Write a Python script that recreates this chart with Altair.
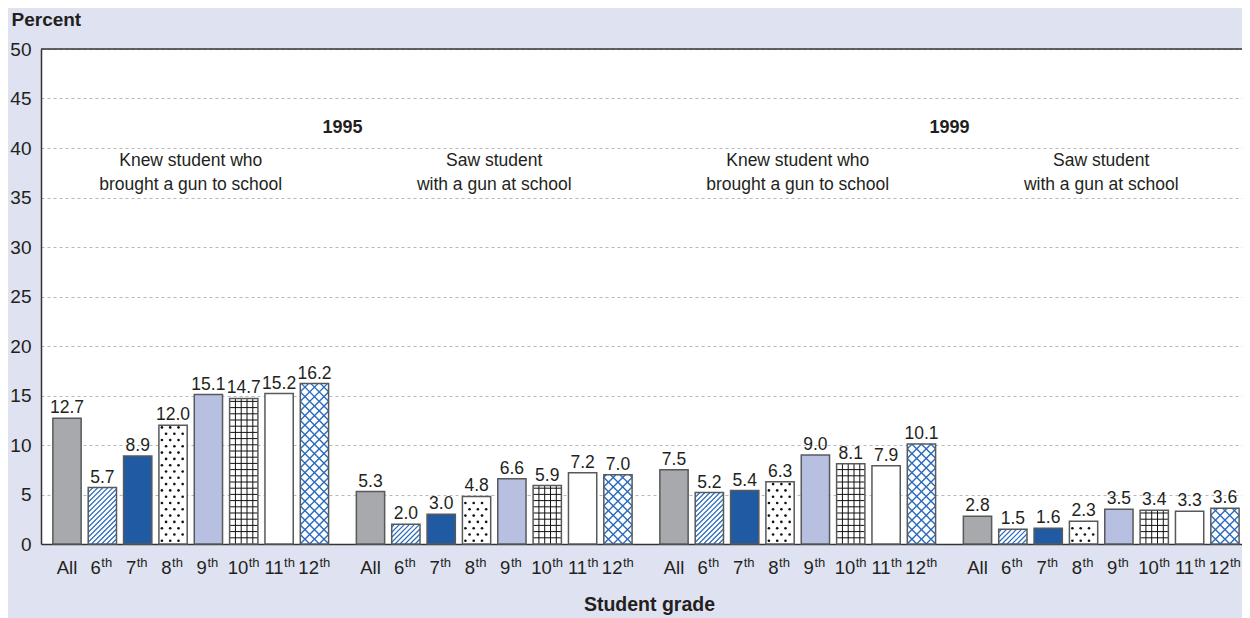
import altair as alt
import pandas as pd
import numpy as np

# ---------------- data ----------------
grades = ["All", "6th", "7th", "8th", "9th", "10th", "11th", "12th"]
knew_1995 = [12.7, 5.7, 8.9, 12.0, 15.1, 14.7, 15.2, 16.2]
saw_1995 = [5.3, 2.0, 3.0, 4.8, 6.6, 5.9, 7.2, 7.0]
knew_1999 = [7.5, 5.2, 5.4, 6.3, 9.0, 8.1, 7.9, 10.1]
saw_1999 = [2.8, 1.5, 1.6, 2.3, 3.5, 3.4, 3.3, 3.6]
series = [knew_1995, saw_1995, knew_1999, saw_1999]
panel_titles = [
    ["Knew student who", "brought a gun to school"],
    ["Saw student", "with a gun at school"],
    ["Knew student who", "brought a gun to school"],
    ["Saw student", "with a gun at school"],
]
years = ["1995", "1999"]
grade_fills = ["#a7a9ac", "#ffffff", "#1f5aa3", "#ffffff", "#b7c0e0", "#ffffff", "#ffffff", "#ffffff"]
grade_patterns = ["", "hatch", "", "dots", "", "grid", "", "diamond"]

# ---------------- layout / style ----------------
FONT = "Liberation Sans, Arial, sans-serif"
BG = "#dfe2f0"
TXT = "#231f20"
HATCH = "#2a6bbb"
EDGE = "#58595b"

W_PLOT, H_PLOT = 1201, 495
PXX = 35.35            # pixels per bar slot
PXY = H_PLOT / 50.0    # pixels per percent
X0 = -26.0 / PXX
X1 = X0 + W_PLOT / PXX
GS = 303.5 / PXX       # group step in slots
HW = 0.4               # half bar width in slots
WP = 2 * HW * PXX

rows = []
for g, vals in enumerate(series):
    for i, (gr, v) in enumerate(zip(grades, vals)):
        pos = g * GS + i
        num = gr.replace("th", "") if gr != "All" else "All"
        rows.append(dict(g=g, grade=gr, v=v, pos=pos, xl=pos - HW, xr=pos + HW, z=0.0,
                         fill=grade_fills[i], pat=grade_patterns[i], label=f"{v:.1f}",
                         num=num, sup="th" if gr != "All" else "",
                         nd=0 if gr == "All" else len(num)))
df_bars = pd.DataFrame(rows)

# decorative fill patterns, derived from each bar's extent
segs, dots = [], []
for r in rows:
    Hp = r["v"] * PXY
    xl = r["xl"]

    def add(u1, w1, u2, w2, c, sw):
        segs.append(dict(x=xl + u1 / PXX, y=w1 / PXY, x2=xl + u2 / PXX, y2=w2 / PXY, c=c, sw=sw))

    if r["pat"] in ("hatch", "diamond"):
        step = 5.0 if r["pat"] == "hatch" else 9.5
        fams = [1] if r["pat"] == "hatch" else [1, -1]
        sw = 1.2 if r["pat"] == "hatch" else 1.4
        for s in fams:
            cs = np.arange(-WP, Hp, step) if s == 1 else np.arange(0, Hp + WP, step)
            for c in cs:
                c = float(c)
                if s == 1:
                    lo, hi = max(0.0, -c), min(WP, Hp - c)
                else:
                    lo, hi = max(0.0, c - Hp), min(WP, c)
                if hi - lo > 0.4:
                    add(lo, s * lo + c, hi, s * hi + c, HATCH, sw)
    elif r["pat"] == "grid":
        for u in np.arange(5.8, WP - 1, 5.8):
            add(float(u), 0, float(u), Hp, "#111111", 1.0)
        for w in np.arange(6.2, Hp - 1, 6.2):
            add(0, float(w), WP, float(w), "#111111", 1.0)
    elif r["pat"] == "dots":
        k = 0
        w = 3.2
        while w < Hp - 2:
            u = 3.0 + (k % 2) * 4.15
            while u < WP - 1.5:
                dots.append(dict(x=xl + u / PXX, y=w / PXY))
                u += 8.3
            w += 6.3
            k += 1
df_segs = pd.DataFrame(segs)
df_dots = pd.DataFrame(dots)

df_panels = pd.DataFrame(dict(pos=[g * GS + 3.5 for g in range(4)],
                              text=["\n".join(t) for t in panel_titles]))
df_years = pd.DataFrame(dict(pos=[k * 2 * GS + 3.5 + GS / 2 for k in range(2)], year=years))

# ---------------- scales / axes ----------------
xs = alt.Scale(domain=[X0, X1], nice=False, zero=False)
ys = alt.Scale(domain=[0, 50], nice=False, zero=True)
x_axis = alt.Axis(labels=False, ticks=False, grid=False, domainColor="#333333", domainWidth=1.5,
                  title="Student grade", titleFontSize=19.5, titleFontWeight="bold", titleColor=TXT,
                  titleY=66, titleX=608, titleBaseline="alphabetic")
y_axis = alt.Axis(values=list(range(0, 51, 5)), title="Percent", titleAngle=0, titleAlign="left",
                  titleX=-30, titleY=-24, titleBaseline="alphabetic", titleFontSize=19,
                  titleFontWeight="bold", titleColor=TXT, labelFontSize=19, labelColor=TXT,
                  tickSize=0, ticks=False, labelPadding=10, domainColor="#333333", domainWidth=1.5,
                  grid=True, gridColor="#b8b8b8", gridDash=[3, 3], gridWidth=1)


def X(f):
    return alt.X(f, type="quantitative", scale=xs, axis=x_axis)


def Y(f):
    return alt.Y(f, type="quantitative", scale=ys, axis=y_axis)


bars = alt.Chart(df_bars).mark_rect(strokeWidth=0).encode(
    x=X("xl"), x2="xr", y=Y("v"), y2="z", fill=alt.Fill("fill:N", scale=None))

pattern = alt.Chart(df_segs).mark_rule(strokeCap="butt").encode(
    x=X("x"), x2="x2", y=Y("y"), y2="y2",
    color=alt.Color("c:N", scale=None), strokeWidth=alt.StrokeWidth("sw:Q", scale=None))

dot_layer = alt.Chart(df_dots).mark_circle(size=7, color="#111111", opacity=1).encode(
    x=X("x"), y=Y("y"))

outline = alt.Chart(df_bars).mark_rect(fillOpacity=0, stroke=EDGE, strokeWidth=1.5).encode(
    x=X("xl"), x2="xr", y=Y("v"), y2="z")

values = alt.Chart(df_bars).mark_text(baseline="alphabetic", dy=-5, fontSize=17.5, color=TXT).encode(
    x=X("pos"), y=Y("v"), text="label:N")

lab_all = alt.Chart(df_bars).transform_filter("datum.nd == 0").mark_text(
    baseline="alphabetic", align="center", fontSize=18.5, color=TXT).encode(
    x=X("pos"), y=alt.value(525), text="num:N")
lab_n1 = alt.Chart(df_bars).transform_filter("datum.nd == 1").mark_text(
    baseline="alphabetic", align="right", dx=-1.5, fontSize=18.5, color=TXT).encode(
    x=X("pos"), y=alt.value(525), text="num:N")
lab_n2 = alt.Chart(df_bars).transform_filter("datum.nd == 2").mark_text(
    baseline="alphabetic", align="right", dx=4.5, fontSize=18.5, color=TXT).encode(
    x=X("pos"), y=alt.value(525), text="num:N")
sup_n1 = alt.Chart(df_bars).transform_filter("datum.nd == 1").mark_text(
    baseline="alphabetic", align="left", dx=-1, fontSize=13, color=TXT).encode(
    x=X("pos"), y=alt.value(518), text="sup:N")
sup_n2 = alt.Chart(df_bars).transform_filter("datum.nd == 2").mark_text(
    baseline="alphabetic", align="left", dx=5, fontSize=13, color=TXT).encode(
    x=X("pos"), y=alt.value(518), text="sup:N")

panels = alt.Chart(df_panels).mark_text(fontSize=17.5, lineHeight=24, baseline="middle",
                                        align="center", lineBreak="\n", color=TXT).encode(
    x=X("pos"), y=alt.YDatum(38.7, scale=ys, axis=y_axis), text="text:N")

year_lab = alt.Chart(df_years).mark_text(fontSize=18, fontWeight="bold", baseline="middle",
                                         align="center", color=TXT).encode(
    x=X("pos"), y=alt.YDatum(42.0, scale=ys, axis=y_axis), text="year:N")

top_rule = alt.Chart(pd.DataFrame({"k": [0]})).mark_rule(color="#333333", strokeWidth=1.5).encode(
    y=alt.YDatum(50, scale=ys, axis=y_axis))

chart = alt.layer(
    bars, pattern, dot_layer, outline, values,
    lab_all, lab_n1, lab_n2, sup_n1, sup_n2,
    panels, year_lab, top_rule,
).properties(
    width=W_PLOT, height=H_PLOT,
    autosize=alt.AutoSizeParams(type="none"),
    padding={"left": 33, "top": 41, "right": 0, "bottom": 74},
).configure(
    font=FONT, background=BG,
).configure_view(
    fill="white", strokeOpacity=0,
)

chart.save("out.html", embed_options={"renderer": "svg", "actions": False})
